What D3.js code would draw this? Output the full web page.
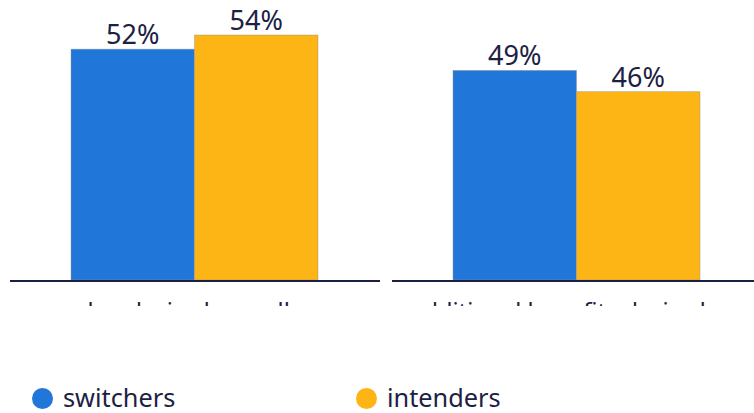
<!DOCTYPE html>
<html>
<head>
<meta charset="utf-8">
<script src="https://cdn.jsdelivr.net/npm/d3@7/dist/d3.min.js"></script>
<style>
  html, body { margin: 0; padding: 0; background: #ffffff; }
  svg { display: block; font-family: "Noto Sans", sans-serif; }
</style>
</head>
<body>
<svg id="chart" width="754" height="413"></svg>
<script>
// Reasons cited, share of respondents per group
const categories = ["value desired overall", "additional benefits desired"];
const seriesNames = ["switchers", "intenders"];
const switchers = [52, 49];
const intenders = [54, 46];
const colors = ["#2176d9", "#fdb515"];

const values = [switchers, intenders];
const rows = categories.map((c, i) => ({
  category: c,
  bars: seriesNames.map((s, j) => ({ series: s, value: values[j][i] }))
}));

const W = 754, H = 413;
const baseY = 280, topY = 35;
const ink = "#1c2143";

const svg = d3.select("#chart");

// Clip the plot so the category captions are cut off below the axis
svg.append("defs").append("clipPath").attr("id", "plotClip")
  .append("rect").attr("x", 0).attr("y", 0).attr("width", W).attr("height", 306);

const plot = svg.append("g").attr("clip-path", "url(#plotClip)");

const x0 = d3.scaleBand().domain(categories).range([10, 762])
  .paddingInner(12 / 382).paddingOuter(0);
const x1 = d3.scaleBand().domain(seriesNames).range([61, 308]).padding(0);
const y = d3.scaleLinear().domain([19.4, 54]).range([baseY, topY]);
const color = d3.scaleOrdinal().domain(seriesNames).range(colors);

const panel = plot.selectAll("g.panel").data(rows).join("g")
  .attr("class", "panel")
  .attr("transform", d => `translate(${x0(d.category)},0)`);

panel.selectAll("rect.bar").data(d => d.bars).join("rect")
  .attr("class", "bar")
  .attr("x", d => x1(d.series))
  .attr("y", d => y(d.value))
  .attr("width", x1.bandwidth())
  .attr("height", d => baseY - y(d.value))
  .attr("fill", d => color(d.series))
  .attr("stroke", "rgba(150,150,150,0.55)")
  .attr("stroke-width", 0.8);

panel.selectAll("text.val").data(d => d.bars).join("text")
  .attr("class", "val")
  .attr("x", d => x1(d.series) + x1.bandwidth() / 2)
  .attr("y", d => y(d.value) - 5)
  .attr("text-anchor", "middle")
  .attr("font-size", 27)
  .attr("fill", ink)
  .text(d => d.value + "%");

// baseline per panel
panel.append("line")
  .attr("x1", 0).attr("x2", x0.bandwidth())
  .attr("y1", baseY + 1).attr("y2", baseY + 1)
  .attr("stroke", ink).attr("stroke-width", 1.8);

// category caption (mostly hidden by the clip)
panel.append("text")
  .attr("x", x0.bandwidth() / 2 - 19)
  .attr("y", 320)
  .attr("text-anchor", "middle")
  .attr("font-size", 23.6)
  .attr("fill", ink)
  .text(d => d.category);

// Legend
const legend = svg.append("g").attr("class", "legend");
const lx = d3.scalePoint().domain(seriesNames).range([42.5, 366.5]);
const item = legend.selectAll("g").data(seriesNames).join("g")
  .attr("transform", d => `translate(${lx(d)},398.5)`);
item.append("circle").attr("r", 10.5).attr("fill", d => color(d));
item.append("text")
  .attr("x", 20.5).attr("y", 8)
  .attr("font-size", 25.3)
  .attr("fill", ink)
  .text(d => d);
</script>
</body>
</html>
